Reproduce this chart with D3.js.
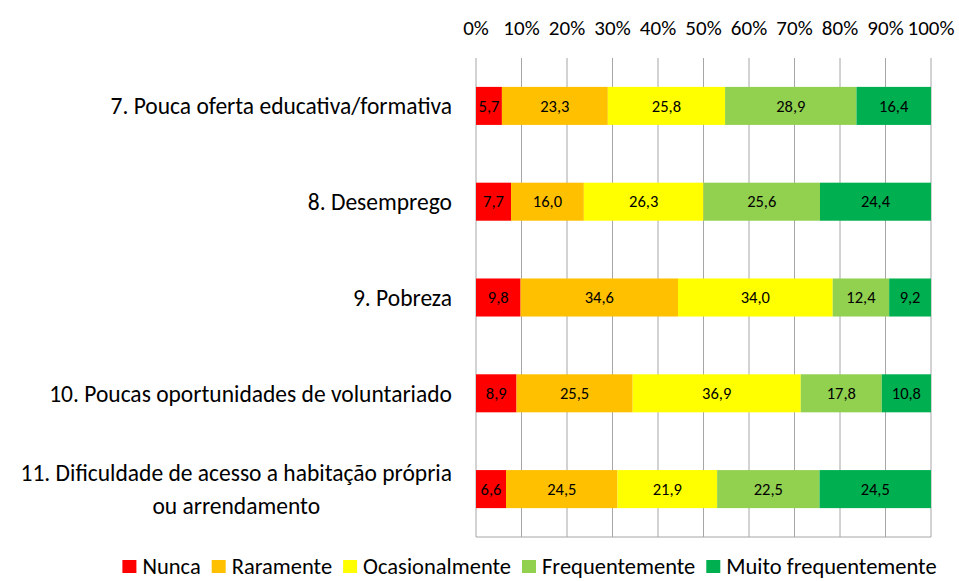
<!DOCTYPE html>
<html>
<head>
<meta charset="utf-8">
<script src="https://cdn.jsdelivr.net/npm/d3@7"></script>
<style>
	body { margin: 0; background: #fff; }
	text { font-family: Carlito, Lato, "Open Sans", sans-serif; fill: #000; }
</style>
</head>
<body>
<svg id="chart" width="959" height="581"></svg>
<script>
// categories (top to bottom)
var categories = [
	["7. Pouca oferta educativa/formativa"],
	["8. Desemprego"],
	["9. Pobreza"],
	["10. Poucas oportunidades de voluntariado"],
	["11. Dificuldade de acesso a habitação própria", "ou arrendamento"]
]
var series = ["Nunca", "Raramente", "Ocasionalmente", "Frequentemente", "Muito frequentemente"]
var colors = ["#ff0000", "#ffc000", "#ffff00", "#92d050", "#00b050"]

var nunca = [5.7, 7.7, 9.8, 8.9, 6.6]
var raramente = [23.3, 16.0, 34.6, 25.5, 24.5]
var ocasionalmente = [25.8, 26.3, 34.0, 36.9, 21.9]
var frequentemente = [28.9, 25.6, 12.4, 17.8, 22.5]
var muitoFreq = [16.4, 24.4, 9.2, 10.8, 24.5]

var tickValues = [0, 0.1, 0.2, 0.3, 0.4, 0.5, 0.6, 0.7, 0.8, 0.9, 1]

var svg = d3.select("#chart")
var plot_l = 476, plot_r = 931, plot_t = 58, plot_b = 537

var rows = categories.map(function(c, i){
	var vals = [nunca[i], raramente[i], ocasionalmente[i], frequentemente[i], muitoFreq[i]]
	var total = d3.sum(vals)
	var acc = 0
	var segs = vals.map(function(v, j){
		var s = {v: v, x0: acc/total, x1: (acc+v)/total, j: j}
		acc += v
		return s
	})
	return {id: i, label: c, segs: segs}
})

var x = d3.scaleLinear().domain([0, 1]).range([plot_l, plot_r])
var y = d3.scaleBand().domain(d3.range(categories.length)).range([plot_t, plot_b])
	.paddingInner(0.603).paddingOuter(0.3015)

// gridlines
svg.append("g")
	.selectAll("line")
	.data(tickValues)
	.enter().append("line")
		.attr("x1", function(d){ return x(d) }).attr("x2", function(d){ return x(d) })
		.attr("y1", plot_t).attr("y2", plot_b)
		.attr("stroke", "#a6a6a6").attr("stroke-width", 1)
svg.append("line")
	.attr("x1", plot_l).attr("x2", plot_r).attr("y1", plot_b).attr("y2", plot_b)
	.attr("stroke", "#a6a6a6")

// top axis labels
svg.append("g")
	.selectAll("text")
	.data(tickValues)
	.enter().append("text")
		.attr("x", function(d){ return x(d) })
		.attr("y", 35)
		.attr("text-anchor", "middle")
		.style("font-size", "21px")
		.text(function(d){ return Math.round(d*100) + "%" })

// bars
var row_g = svg.append("g").selectAll("g")
	.data(rows)
	.enter().append("g")
		.attr("transform", function(d){ return "translate(0," + y(d.id) + ")" })

row_g.selectAll("rect")
	.data(function(d){ return d.segs })
	.enter().append("rect")
		.attr("x", function(d){ return x(d.x0) })
		.attr("width", function(d){ return x(d.x1) - x(d.x0) })
		.attr("y", 0)
		.attr("height", y.bandwidth())
		.attr("fill", function(d){ return colors[d.j] })

row_g.selectAll("text.val")
	.data(function(d){ return d.segs })
	.enter().append("text")
		.classed("val", true)
		.attr("x", function(d){ return (x(d.x0) + x(d.x1))/2 })
		.attr("y", y.bandwidth()/2)
		.attr("dy", "0.35em")
		.attr("text-anchor", "middle")
		.style("font-size", "16.5px")
		.text(function(d){ return d.v.toFixed(1).replace(".", ",") })

// category labels
var lab = svg.append("g").selectAll("text")
	.data(rows)
	.enter().append("text")
		.style("font-size", "23.5px")
		.attr("text-anchor", "end")
		.attr("transform", function(d){
			var cy = y(d.id) + y.bandwidth()/2
			return "translate(452," + cy + ")"
		})
lab.each(function(d){
	var t = d3.select(this)
	var n = d.label.length
	if(n == 1){
		t.append("tspan").attr("x", 0).attr("y", 0).attr("dy", "0.35em").text(d.label[0])
	}else{
		// two-line label, centred under the first line
		var first = t.append("tspan").attr("x", 0).attr("y", -16.5).attr("dy", "0.35em").text(d.label[0])
		var w = first.node().getComputedTextLength()
		t.append("tspan").attr("x", -w/2).attr("y", 16.5).attr("dy", "0.35em")
			.attr("text-anchor", "middle").text(d.label[1])
	}
})

// legend
var leg = svg.append("g")
var item_x = 0
var items = leg.selectAll("g")
	.data(series)
	.enter().append("g")
items.append("rect")
	.attr("y", -6).attr("width", 14).attr("height", 13)
	.attr("fill", function(d, i){ return colors[i] })
items.append("text")
	.attr("x", 20).attr("y", 0).attr("dy", "0.35em")
	.style("font-size", "22.5px")
	.text(function(d){ return d })
items.each(function(){
	var w = this.getBBox().width
	d3.select(this).attr("transform", "translate(" + item_x + ",0)")
	item_x += w + 11
})
var total_w = item_x - 11
leg.attr("transform", "translate(" + (529.5 - total_w/2) + ",566)")
</script>
</body>
</html>
